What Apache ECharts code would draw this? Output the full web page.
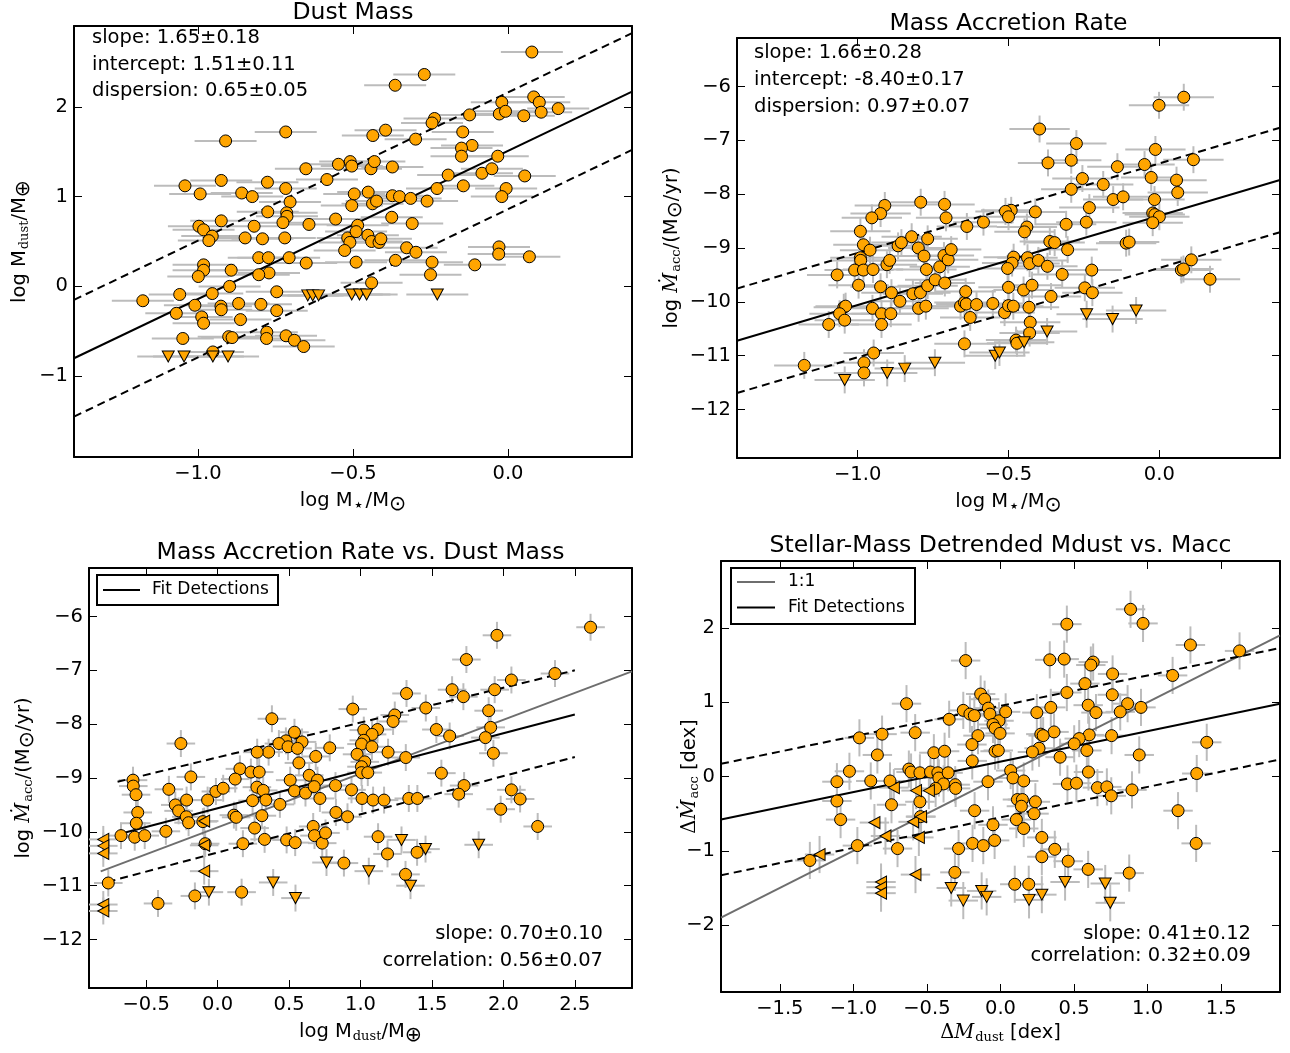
<!DOCTYPE html>
<html><head><meta charset="utf-8">
<script src="https://cdn.jsdelivr.net/npm/echarts@6/dist/echarts.min.js"></script>
<style>html,body{margin:0;padding:0;background:#fff}#c{width:1290px;height:1053px}</style>
</head><body><div id="c"></div>
<script>
// ---------------- DATA ----------------
// Panel 1: log M* vs log Mdust
const dustDet = [[-0.911,1.62],[-0.717,1.72],[-1.042,1.12],[-0.993,1.03],[-0.925,1.18],[-0.859,1.04],[-0.825,1.00],[-0.776,1.16],[-0.717,1.09],[-0.652,1.31],[-0.584,1.19],[-0.547,1.36],[-0.509,1.39],[-0.504,1.34],[-0.703,0.94],[-0.775,0.83],[-0.714,0.82],[-0.713,0.78],[-0.726,0.71],[-0.925,0.73],[-0.997,0.67],[-0.982,0.63],[-0.954,0.56],[-0.965,0.51],[-0.819,0.67],[-0.848,0.54],[-0.792,0.53],[-0.720,0.54],[-0.642,0.69],[-0.556,0.75],[-0.496,1.03],[-0.504,0.90],[-0.517,0.54],[-0.51,0.49],[-0.527,0.40],[-0.49,0.27],[-0.982,0.24],[-0.982,0.18],[-0.999,0.11],[-0.893,0.18],[-0.804,0.32],[-0.773,0.32],[-0.706,0.32],[-0.651,0.26],[-0.771,0.15],[-0.804,0.13],[-0.898,0.00],[-0.954,-0.08],[-1.059,-0.09],[-1.178,-0.16],[-1.010,-0.21],[-0.926,-0.22],[-0.925,-0.26],[-0.869,-0.19],[-0.797,-0.20],[-0.746,-0.06],[-0.746,-0.27],[-1.070,-0.30],[-0.988,-0.34],[-0.982,-0.41],[-0.863,-0.37],[-1.049,-0.58],[-0.901,-0.56],[-0.89,-0.57],[-0.778,-0.51],[-0.779,-0.58],[-0.716,-0.55],[-0.689,-0.60],[-0.659,-0.67],[-0.952,-0.73],
[0.077,2.61],[-0.270,2.36],[-0.364,2.24],[0.083,2.11],[-0.020,2.05],[0.101,2.05],[-0.028,1.92],[-0.008,1.95],[0.051,1.90],[0.107,1.94],[0.162,1.98],[-0.124,1.91],[-0.237,1.87],[-0.245,1.82],[-0.436,1.68],[-0.395,1.74],[-0.298,1.64],[-0.146,1.72],[-0.116,1.57],[-0.150,1.54],[-0.150,1.45],[-0.033,1.45],[-0.084,1.26],[-0.052,1.31],[0.054,1.23],[-0.193,1.24],[-0.144,1.12],[-0.229,1.09],[-0.006,1.09],[-0.02,1.00],[-0.442,1.31],[-0.431,1.39],[-0.373,1.33],[-0.451,1.05],[-0.437,0.92],[-0.424,0.95],[-0.373,1.01],[-0.350,1.00],[-0.314,0.98],[-0.261,0.95],[-0.485,0.68],[-0.49,0.61],[-0.375,0.77],[-0.309,0.70],[-0.452,0.57],[-0.44,0.50],[-0.416,0.49],[-0.41,0.53],[-0.327,0.43],[-0.297,0.38],[-0.363,0.29],[-0.245,0.27],[-0.107,0.24],[-0.029,0.44],[-0.03,0.36],[0.069,0.33],[-0.250,0.13],[-0.440,0.04]];
const dustLim = [[-1.096,-0.78],[-1.045,-0.78],[-0.952,-0.78],[-0.903,-0.78],[-0.646,-0.10],[-0.63,-0.10],[-0.611,-0.10],[-0.504,-0.09],[-0.479,-0.09],[-0.456,-0.09],[-0.228,-0.09]];

// Panel 2: log M* vs log Macc
const accDet = [[-0.910,-8.21],[-0.924,-8.36],[-0.953,-8.44],[-0.791,-8.15],[-0.712,-8.19],[-0.707,-8.44],[-0.638,-8.60],[-0.583,-8.52],[-0.991,-8.69],[-0.981,-8.94],[-0.959,-9.04],[-0.991,-9.18],[-0.99,-9.23],[-1.068,-9.50],[-1.010,-9.41],[-0.981,-9.41],[-0.949,-9.40],[-0.903,-9.31],[-0.894,-9.23],[-0.866,-8.96],[-0.855,-8.90],[-0.821,-8.79],[-0.768,-8.83],[-0.799,-9.00],[-0.780,-9.15],[-0.772,-9.40],[-0.728,-9.35],[-0.714,-9.14],[-0.700,-9.22],[-0.690,-9.03],[-0.997,-9.69],[-0.924,-9.72],[-0.888,-9.83],[-0.860,-9.99],[-0.817,-9.85],[-0.792,-9.83],[-0.768,-9.70],[-0.743,-9.59],[-0.711,-9.65],[-0.798,-10.12],[-0.774,-10.08],[-0.951,-10.12],[-0.921,-10.22],[-0.890,-10.22],[-0.921,-10.42],[-1.046,-10.10],[-1.04,-10.08],[-1.060,-10.22],[-1.043,-10.34],[-1.096,-10.42],[-0.659,-10.08],[-0.646,-10.01],[-0.642,-9.81],[-0.64,-10.04],[-0.627,-10.29],[-0.606,-10.05],[-0.552,-10.03],[-0.513,-10.20],[-0.646,-10.78],[-0.947,-10.95],[-0.979,-11.13],[-0.979,-11.32],[-1.177,-11.18],
[0.081,-6.20],[-0.001,-6.35],[-0.397,-6.79],[-0.275,-7.06],[-0.369,-7.42],[-0.292,-7.37],[-0.013,-7.17],[0.113,-7.36],[-0.139,-7.49],[-0.049,-7.45],[-0.255,-7.71],[-0.292,-7.91],[-0.186,-7.82],[-0.027,-7.69],[0.057,-7.74],[0.061,-7.97],[-0.153,-8.10],[-0.120,-8.05],[-0.232,-8.25],[-0.016,-8.10],[-0.491,-8.30],[-0.510,-8.32],[-0.500,-8.42],[-0.411,-8.33],[-0.309,-8.56],[-0.242,-8.52],[-0.022,-8.35],[-0.015,-8.38],[0.0,-8.42],[-0.022,-8.53],[-0.439,-8.61],[-0.447,-8.70],[-0.363,-8.88],[-0.347,-8.90],[-0.304,-9.03],[-0.110,-8.91],[-0.10,-8.89],[-0.483,-9.17],[-0.488,-9.28],[-0.503,-9.38],[-0.437,-9.18],[-0.43,-9.29],[-0.401,-9.23],[-0.371,-9.34],[-0.322,-9.49],[-0.224,-9.41],[-0.5,-9.73],[-0.450,-9.78],[-0.422,-9.69],[-0.359,-9.90],[-0.247,-9.74],[-0.222,-9.83],[-0.5,-10.07],[-0.484,-10.08],[-0.432,-10.10],[-0.428,-10.38],[-0.43,-10.58],[-0.475,-10.71],[-0.472,-10.77],[0.073,-9.41],[0.08,-9.39],[0.106,-9.22],[0.168,-9.58]];
const accLim = [[-1.043,-11.45],[-0.902,-11.32],[-0.844,-11.24],[-0.744,-11.13],[-0.544,-11.0],[-0.53,-10.94],[-0.448,-10.75],[-0.372,-10.55],[-0.241,-10.23],[-0.155,-10.32],[-0.077,-10.16]];

// Panel 3: log Mdust vs log Macc
const mmDet = [[0.946,-7.72],[0.380,-7.90],[-0.257,-8.36],[0.538,-8.15],[0.478,-8.31],[0.429,-8.36],[0.493,-8.42],[0.591,-8.33],[0.559,-8.45],[0.357,-8.52],[0.277,-8.52],[0.687,-8.60],[0.785,-8.44],[0.569,-8.72],[0.156,-8.83],[0.233,-8.89],[0.291,-8.89],[-0.187,-8.98],[0.641,-8.95],[0.123,-9.02],[0.508,-9.04],[0.699,-9.04],[-0.592,-9.04],[-0.59,-9.15],[-0.571,-9.31],[-0.341,-9.21],[-0.012,-9.25],[0.039,-9.19],[0.275,-9.17],[0.319,-9.23],[0.538,-9.24],[0.615,-9.28],[0.676,-9.16],[0.825,-9.14],[0.937,-9.22],[-0.296,-9.50],[-0.273,-9.61],[-0.217,-9.41],[-0.219,-9.72],[-0.203,-9.83],[-0.070,-9.41],[0.245,-9.42],[0.338,-9.41],[0.436,-9.49],[0.716,-9.38],[0.114,-9.69],[0.130,-9.73],[0.310,-9.70],[0.828,-9.64],[0.909,-9.72],[-0.559,-9.64],[-0.569,-9.84],[-0.676,-10.07],[-0.580,-10.10],[-0.510,-10.07],[-0.362,-9.99],[-0.103,-9.81],[-0.087,-10.22],[0.177,-10.22],[0.259,-9.93],[0.329,-10.14],[0.483,-10.15],[0.543,-10.20],[0.669,-9.90],[0.678,-10.07],[0.732,-10.21],[0.755,-10.02],[0.884,-10.58],[-0.765,-10.95],[-0.417,-11.33],[-0.159,-11.19],[0.168,-11.12],
[2.61,-6.20],[1.955,-6.35],[1.741,-6.80],[2.361,-7.06],[2.056,-7.18],[1.939,-7.36],[1.641,-7.36],[1.720,-7.49],[1.322,-7.43],[1.457,-7.70],[1.897,-7.75],[1.240,-7.83],[1.228,-7.95],[1.911,-8.06],[1.531,-8.10],[1.624,-8.22],[1.874,-8.25],[1.930,-8.54],[1.023,-8.11],[1.119,-8.10],[1.081,-8.19],[1.023,-8.30],[1.007,-8.37],[1.08,-8.42],[1.193,-8.52],[0.976,-8.56],[1.317,-8.62],[1.030,-8.70],[1.007,-8.79],[1.007,-8.90],[1.051,-8.90],[1.566,-8.91],[1.725,-9.14],[1.687,-9.30],[2.056,-9.22],[2.117,-9.39],[1.981,-9.58],[2.240,-9.90],[1.011,-9.38],[1.088,-9.41],[1.165,-9.41],[1.338,-9.38],[1.398,-9.38],[1.123,-10.09],[1.189,-10.41],[1.396,-10.38],[1.315,-10.79]];
const mmLimY = [[0.762,-10.57],[0.389,-10.94],[0.545,-11.23],[-0.061,-11.12],[1.287,-10.15],[1.455,-10.32],[1.827,-10.24],[1.058,-10.73],[1.350,-11.0]];
const mmLimX = [[-0.80,-10.14],[-0.80,-10.26],[-0.80,-10.40],[-0.80,-11.35],[-0.80,-11.47],[-0.094,-9.80],[-0.094,-10.25],[-0.094,-10.73]];

// Panel 4: detrended residuals
const resDet = [[-0.237,1.56],[-0.639,0.98],[-0.135,1.11],[-0.108,1.04],[-0.083,0.92],[-0.072,0.84],[-0.253,0.89],[-0.208,0.84],[-0.178,0.82],[-0.349,0.77],[-0.010,0.75],[-0.051,0.70],[-0.037,0.65],[-0.003,0.58],[0.035,0.87],[-0.959,0.52],[-0.805,0.57],[-0.580,0.59],[-0.153,0.55],[-0.837,0.29],[-0.453,0.32],[-0.380,0.34],[-0.194,0.43],[-0.192,0.21],[-0.037,0.34],[-0.015,0.35],[-1.027,0.07],[-1.112,-0.07],[-0.882,-0.06],[-0.751,-0.06],[-0.623,0.10],[-0.608,0.06],[-0.548,0.05],[-0.476,0.06],[-0.426,0.05],[-0.419,-0.02],[-0.356,0.05],[-0.387,-0.10],[-0.308,-0.11],[-0.305,-0.16],[-0.441,-0.16],[-0.085,-0.07],[-1.112,-0.33],[-1.087,-0.58],[-0.741,-0.38],[-0.548,-0.34],[-0.544,-0.54],[-0.176,-0.46],[-0.051,-0.65],[-0.040,-0.86],[-0.190,-0.90],[-0.117,-0.93],[-0.285,-0.97],[-0.310,-1.29],[-0.700,-0.97],[-0.973,-0.93],[-1.296,-1.13],
[0.884,2.25],[0.969,2.06],[0.451,2.05],[1.291,1.77],[1.625,1.69],[0.335,1.57],[0.433,1.58],[0.630,1.54],[0.614,1.50],[0.762,1.38],[1.170,1.36],[0.574,1.25],[0.451,1.13],[0.760,1.10],[0.864,0.98],[0.955,0.93],[0.814,0.87],[0.596,0.96],[0.649,0.86],[0.342,0.93],[0.247,0.86],[0.364,0.60],[0.274,0.57],[0.29,0.55],[0.603,0.56],[0.755,0.55],[0.535,0.51],[0.501,0.44],[0.587,0.35],[0.262,0.38],[0.217,0.33],[0.405,0.26],[1.402,0.46],[0.943,0.29],[0.069,0.08],[0.085,-0.02],[0.158,-0.06],[0.598,0.06],[0.455,-0.10],[0.516,-0.09],[0.659,-0.15],[0.723,-0.14],[0.753,-0.26],[0.894,-0.18],[1.334,0.04],[0.115,-0.31],[0.149,-0.31],[0.142,-0.40],[0.237,-0.34],[0.228,-0.50],[0.108,-0.58],[0.158,-0.70],[0.281,-0.82],[0.369,-0.98],[0.281,-1.08],[0.460,-1.14],[0.596,-1.25],[0.875,-1.30],[0.097,-1.45],[0.192,-1.45],[1.207,-0.46],[1.330,-0.90]];
const resLimY = [[-0.335,-1.50],[-0.253,-1.67],[-0.128,-1.54],[-0.094,-1.62],[0.439,-1.42],[0.712,-1.44],[0.746,-1.70],[0.194,-1.66],[0.281,-1.59]];
const resLimX = [[-1.230,-1.05],[-0.725,-0.15],[-0.574,-0.19],[-0.487,-0.19],[-0.857,-0.62],[-0.782,-0.80],[-0.594,-0.61],[-0.540,-0.54],[-0.555,-0.82],[-0.578,-1.32],[-0.812,-1.42],[-0.812,-1.49],[-0.812,-1.57]];

// typical 1-sigma errors [x, y]
const ERR_P1 = [0.10, 0.05];
const ERR_P2 = [0.10, 0.25];
const ERR_P3 = [0.10, 0.25];
const ERR_P4 = [0.10, 0.25];

// fits
const FIT_DUST = {slope: 1.65, icpt: 1.51, disp: 0.65};
const FIT_ACC  = {slope: 1.66, icpt: -8.40, disp: 0.97};
const FIT_RES  = {slope: 0.41, icpt: 0.20, disp: 0.75};
const P3_FIT = [[-0.70,-10.05],[2.5,-7.82]];
const P3_UP  = [[-0.70,-9.07],[2.5,-7.00]];
const P3_LO  = [[-0.77,-10.93],[2.5,-8.61]];
const P3_ONE = [[-0.818,-10.735],[2.9,-7.02]];

// axis ranges & ticks
const X_MSTAR = [-1.4, 0.4], X_MDUST = [-0.9, 2.9], X_RES = [-1.9, 1.9];
const Y_DUST = [-1.9, 2.9], Y_ACC = [-12.9, -5.1], Y_RES = [-2.9, 2.9];
const T_MSTAR = [-1.0, -0.5, 0.0];
const T_DUST = [-1, 0, 1, 2];
const T_ACC = [-12, -11, -10, -9, -8, -7, -6];
const T_MDUST = [-0.5, 0.0, 0.5, 1.0, 1.5, 2.0, 2.5];
const T_RESX = [-1.5, -1.0, -0.5, 0.0, 0.5, 1.0, 1.5];
const T_RESY = [-2, -1, 0, 1, 2];

// ---------------- CHART ----------------
const FONT = 'DejaVu Sans';
const ORANGE = '#FFA500';
const FS = 19.5, FT = 23.5;
const GRIDS = [
  {left: 74, top: 26, width: 558, height: 431},
  {left: 737, top: 38, width: 543, height: 420},
  {left: 89, top: 568, width: 543, height: 420},
  {left: 721, top: 561, width: 559, height: 431}
];
const fmt = d => v => (v < 0 ? '\u2212' : '') + Math.abs(v).toFixed(d);
const RICH = {
  n: {fontFamily: FONT, fontSize: FS, color: '#000'},
  s: {fontFamily: 'DejaVu Serif', fontSize: 13, color: '#000', padding: [9, 0, 0, 1]},
  st: {fontFamily: FONT, fontSize: 9, color: '#000', padding: [9, 3, 0, 2]},
  o: {fontFamily: FONT, fontSize: 20.5, color: '#000', padding: [7, 0, 0, 0]},
  mi: {fontFamily: 'DejaVu Serif', fontStyle: 'italic', fontSize: FS, color: '#000'},
  m: {fontFamily: 'DejaVu Serif', fontSize: FS, color: '#000'}
};
const NAME_MSTAR = '{n|log M}{st|\u2605}{n|/M}{o|\u2299}';
const NAME_MDUST = '{n|log M}{s|dust}{n|/M}{o|\u2295}';
const NAME_MACC = '{n|log }{mi|\u1e40}{s|acc}{n|/(M}{o|\u2299}{n|/yr)}';
const NAME_DX = '{m|\u0394}{mi|M}{s|dust}{n| [dex]}';
const NAME_DY = '{m|\u0394}{mi|\u1e40}{s|acc}{n| [dex]}';

const xAxes = [], yAxes = [];
function addAxes(gi, xr, yr, xt, yt, xd, yd, xname, yname, xgap, ygap, yMove) {
  const line = {show: true, onZero: false, lineStyle: {color: '#000', width: 2}};
  const tick = t => ({show: true, inside: true, length: 8, customValues: t, lineStyle: {color: '#000', width: 1}});
  const lab = (t, d, m) => ({show: true, customValues: t, formatter: fmt(d), margin: m, color: '#000', fontFamily: FONT, fontSize: FS});
  xAxes.push({type: 'value', gridIndex: gi, min: xr[0], max: xr[1], position: 'bottom', axisLine: line,
    axisTick: tick(xt), axisLabel: lab(xt, xd, 7), splitLine: {show: false},
    name: xname, nameLocation: 'middle', nameGap: xgap, nameTextStyle: {rich: RICH}});
  xAxes.push({type: 'value', gridIndex: gi, min: xr[0], max: xr[1], position: 'top', axisLine: line,
    axisTick: tick(xt), axisLabel: {show: false}, splitLine: {show: false}});
  const ya = {type: 'value', gridIndex: gi, min: yr[0], max: yr[1], position: 'left', axisLine: line,
    axisTick: tick(yt), axisLabel: lab(yt, yd, 6), splitLine: {show: false},
    name: yname, nameLocation: 'middle', nameRotate: 90, nameGap: ygap, nameTextStyle: {rich: RICH}};
  if (yMove === false) ya.nameMoveOverlap = false;
  yAxes.push(ya);
  yAxes.push({type: 'value', gridIndex: gi, min: yr[0], max: yr[1], position: 'right', axisLine: line,
    axisTick: tick(yt), axisLabel: {show: false}, splitLine: {show: false}});
}
addAxes(0, X_MSTAR, Y_DUST, T_MSTAR, T_DUST, 1, 0, NAME_MSTAR, NAME_MDUST, 30, 40);
addAxes(1, X_MSTAR, Y_ACC, T_MSTAR, T_ACC, 1, 0, NAME_MSTAR, NAME_MACC, 30, 50);
addAxes(2, X_MDUST, Y_ACC, T_MDUST, T_ACC, 1, 0, NAME_MDUST, NAME_MACC, 30, 50);
addAxes(3, X_RES, Y_RES, T_RESX, T_RESY, 1, 0, NAME_DX, NAME_DY, 30, 20, false);

const series = [];
function errSeries(gi, pts, e) {
  series.push({type: 'custom', xAxisIndex: 2 * gi, yAxisIndex: 2 * gi, data: pts, z: 1, silent: true, clip: true,
    encode: {x: 0, y: 1},
    renderItem: (params, api) => {
      const x = api.value(0), y = api.value(1);
      const a = api.coord([x - e[0], y]), b = api.coord([x + e[0], y]);
      const c = api.coord([x, y - e[1]]), d = api.coord([x, y + e[1]]);
      const st = {stroke: '#bcbcbc', lineWidth: 2};
      return {type: 'group', children: [
        {type: 'line', shape: {x1: a[0], y1: a[1], x2: b[0], y2: b[1]}, style: st},
        {type: 'line', shape: {x1: c[0], y1: c[1], x2: d[0], y2: d[1]}, style: st}]};
    }});
}
function scat(gi, pts, symbol, rot, size) {
  series.push({type: 'scatter', xAxisIndex: 2 * gi, yAxisIndex: 2 * gi, data: pts, symbol: symbol,
    symbolRotate: rot, symbolSize: size, z: 4, silent: true,
    itemStyle: {color: ORANGE, borderColor: '#000', borderWidth: 1, opacity: 1}});
}
function line(gi, pts, color, type) {
  series.push({type: 'line', xAxisIndex: 2 * gi, yAxisIndex: 2 * gi, data: pts, showSymbol: false, symbol: 'none',
    lineStyle: {color: color, width: 2, type: type}, z: 3, silent: true});
}
function fitLines(gi, fit, xr) {
  const f = (x, o) => fit.icpt + fit.slope * x + o;
  line(gi, [[xr[0], f(xr[0], 0)], [xr[1], f(xr[1], 0)]], '#000', 'solid');
  line(gi, [[xr[0], f(xr[0], fit.disp)], [xr[1], f(xr[1], fit.disp)]], '#000', [8, 5]);
  line(gi, [[xr[0], f(xr[0], -fit.disp)], [xr[1], f(xr[1], -fit.disp)]], '#000', [8, 5]);
}
const CS = 12, TS = [12, 11];
// panel 1
errSeries(0, dustDet.concat(dustLim), ERR_P1);
fitLines(0, FIT_DUST, X_MSTAR);
scat(0, dustDet, 'circle', 0, CS);
scat(0, dustLim, 'triangle', 180, TS);
// panel 2
errSeries(1, accDet.concat(accLim), ERR_P2);
fitLines(1, FIT_ACC, X_MSTAR);
scat(1, accDet, 'circle', 0, CS);
scat(1, accLim, 'triangle', 180, TS);
// panel 3
errSeries(2, mmDet.concat(mmLimY, mmLimX), ERR_P3);
line(2, P3_ONE, '#6e6e6e', 'solid');
line(2, P3_FIT, '#000', 'solid');
line(2, P3_UP, '#000', [8, 5]);
line(2, P3_LO, '#000', [8, 5]);
scat(2, mmDet, 'circle', 0, CS);
scat(2, mmLimY, 'triangle', 180, TS);
scat(2, mmLimX, 'triangle', 90, TS);
// panel 4
errSeries(3, resDet.concat(resLimY, resLimX), ERR_P4);
line(3, [[X_RES[0], X_RES[0]], [X_RES[1], X_RES[1]]], '#6e6e6e', 'solid');
fitLines(3, FIT_RES, X_RES);
scat(3, resDet, 'circle', 0, CS);
scat(3, resLimY, 'triangle', 180, TS);
scat(3, resLimX, 'triangle', 90, TS);

// text / legends
const T = (x, y, text, size, align) => ({type: 'text', x: x, y: y, z: 20, silent: true,
  style: {text: text, font: size + 'px "DejaVu Sans"', fill: '#000', align: align || 'left', verticalAlign: 'middle'}});
const graphics = [
  T(353, 13, 'Dust Mass', FT, 'center'),
  T(1008.5, 24, 'Mass Accretion Rate', FT, 'center'),
  T(360.5, 553, 'Mass Accretion Rate vs. Dust Mass', FT, 'center'),
  T(1000.5, 546, 'Stellar-Mass Detrended Mdust vs. Macc', FT, 'center'),
  T(92, 38, 'slope: 1.65\u00b10.18', FS), T(92, 65, 'intercept: 1.51\u00b10.11', FS), T(92, 91, 'dispersion: 0.65\u00b10.05', FS),
  T(754, 53, 'slope: 1.66\u00b10.28', FS), T(754, 80, 'intercept: -8.40\u00b10.17', FS), T(754, 107, 'dispersion: 0.97\u00b10.07', FS),
  T(603, 934, 'slope: 0.70\u00b10.10', FS, 'right'), T(603, 961, 'correlation: 0.56\u00b10.07', FS, 'right'),
  T(1251, 934, 'slope: 0.41\u00b10.12', FS, 'right'), T(1251, 956, 'correlation: 0.32\u00b10.09', FS, 'right'),
  // legend panel 3
  {type: 'rect', z: 19, silent: true, shape: {x: 97, y: 575, width: 181, height: 30}, style: {fill: '#fff', stroke: '#000', lineWidth: 2}},
  {type: 'line', z: 20, silent: true, shape: {x1: 103, y1: 590, x2: 140, y2: 590}, style: {stroke: '#000', lineWidth: 2}},
  T(152, 590, 'Fit Detections', 17),
  // legend panel 4
  {type: 'rect', z: 19, silent: true, shape: {x: 731, y: 568, width: 184, height: 56}, style: {fill: '#fff', stroke: '#000', lineWidth: 2}},
  {type: 'line', z: 20, silent: true, shape: {x1: 737, y1: 582, x2: 775, y2: 582}, style: {stroke: '#6e6e6e', lineWidth: 2}},
  {type: 'line', z: 20, silent: true, shape: {x1: 737, y1: 607.5, x2: 775, y2: 607.5}, style: {stroke: '#000', lineWidth: 2}},
  T(788, 582, '1:1', 17),
  T(788, 607.5, 'Fit Detections', 17)
];

const chart = echarts.init(document.getElementById('c'), null, {renderer: 'canvas'});
chart.setOption({
  animation: false,
  backgroundColor: '#fff',
  grid: GRIDS,
  xAxis: xAxes,
  yAxis: yAxes,
  series: series,
  graphic: graphics
});
</script></body></html>
